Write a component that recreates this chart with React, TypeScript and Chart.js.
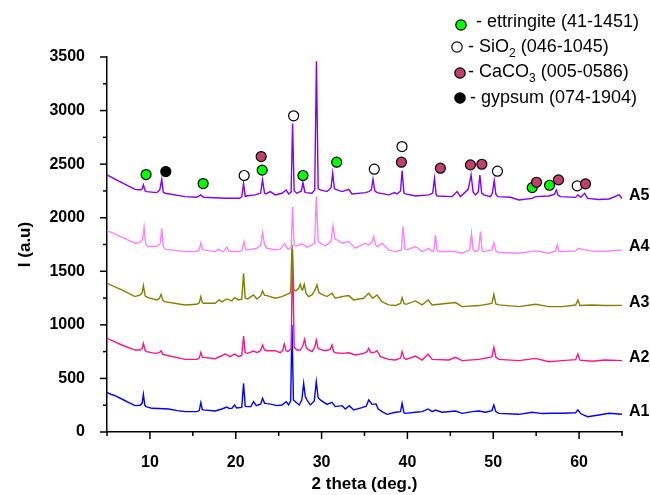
import React, { useEffect, useRef } from 'react';
import { Chart, registerables } from 'chart.js';

Chart.register(...registerables);

// 2 theta (deg.) , intensity (a.u.) for each sample
const A1: [number, number][] = [[5.0,370],[5.5,350],[5.94,339],[6.72,308],[7.49,277],[8.27,246],[8.86,250],[9.1,270],[9.24,352],[9.4,250],[9.56,237],[10.22,221],[11,220],[12.16,215],[13.2,200],[14.1,190],[15.46,190],[15.75,200],[15.93,274],[16.1,210],[16.24,206],[17.6,196],[18.38,215],[18.96,233],[19.2,220],[19.55,221],[19.86,252],[20.1,225],[20.7,230],[20.91,454],[21.1,240],[21.3,237],[21.76,237],[22.07,283],[22.39,246],[22.9,260],[23.12,314],[23.35,270],[23.63,265],[24.21,258],[24.8,246],[25.38,252],[25.88,283],[26.16,252],[26.4,290],[26.55,1000],[26.72,300],[26.94,283],[27.4,252],[27.7,300],[27.91,454],[28.1,330],[28.3,300],[28.68,252],[29.15,290],[29.38,470],[29.6,320],[29.85,300],[30.63,258],[31.21,277],[31.6,237],[32.38,246],[32.77,215],[33.23,246],[33.74,206],[34.71,227],[35.2,240],[35.49,299],[35.88,258],[36.34,262],[36.6,215],[37.04,190],[37.63,165],[38.6,184],[39.2,190],[39.38,268],[39.6,180],[39.77,174],[40.93,184],[41.71,190],[42.41,215],[42.88,190],[43.26,205],[44.04,184],[45.6,196],[46.37,174],[47.54,190],[48.32,196],[49.1,184],[49.85,200],[50.07,252],[50.3,190],[50.65,174],[52.99,165],[54.54,184],[55.71,172],[56.87,175],[58.04,175],[59.6,180],[59.86,206],[60.2,170],[61.0,143],[62.3,159],[63.5,175],[65,165]];

const A2: [number, number][] = [[5,874],[6.72,812],[8.27,765],[8.86,765],[9.1,780],[9.24,827],[9.45,760],[9.63,750],[10.6,734],[11.1,740],[11.3,759],[11.5,725],[11.77,719],[14.1,678],[15.46,678],[15.75,690],[15.93,743],[16.1,700],[16.24,697],[17.6,684],[18.77,728],[19.35,703],[19.86,728],[20.33,703],[20.7,715],[20.91,896],[21.1,740],[21.38,734],[22.07,756],[22.46,740],[22.9,760],[23.12,812],[23.35,765],[23.63,759],[24.6,759],[25.18,740],[25.45,760],[25.65,821],[25.85,760],[26.08,750],[26.45,780],[26.62,1700],[26.8,790],[27.13,765],[27.52,765],[27.8,800],[28.02,865],[28.2,790],[28.41,771],[28.88,750],[29.2,790],[29.38,859],[29.6,780],[29.85,771],[30.43,759],[31.0,770],[31.21,812],[31.4,750],[31.6,740],[32.38,734],[33.16,740],[33.93,719],[34.9,734],[35.3,750],[35.49,781],[35.7,745],[35.88,740],[36.2,745],[36.46,759],[36.85,703],[37.82,678],[38.6,672],[39.2,690],[39.38,750],[39.6,690],[39.84,678],[40.93,709],[41.71,672],[42.41,728],[42.88,678],[44.82,672],[45.6,697],[46.37,666],[48.32,678],[49.85,700],[50.07,790],[50.3,700],[50.65,678],[52.99,666],[54.93,687],[56.48,656],[58.04,666],[59.6,675],[59.86,728],[60.1,670],[61.5,660],[63,672],[65,666]];

const A3: [number, number][] = [[5,1388],[6.72,1326],[8.27,1264],[8.86,1279],[9.1,1300],[9.24,1366],[9.45,1270],[9.75,1254],[10.8,1233],[11.1,1245],[11.3,1285],[11.5,1230],[11.69,1217],[14.1,1186],[15.46,1192],[15.75,1205],[15.93,1264],[16.1,1210],[16.24,1201],[17.6,1201],[18.07,1233],[18.4,1215],[18.96,1242],[19.55,1223],[19.86,1254],[20.33,1233],[20.7,1240],[20.91,1481],[21.1,1250],[21.38,1242],[22.07,1279],[22.46,1242],[22.9,1270],[23.12,1317],[23.35,1275],[23.63,1273],[24.6,1248],[25.38,1264],[25.96,1285],[26.4,1300],[26.55,1750],[26.75,1330],[27.01,1317],[27.32,1341],[27.52,1379],[27.68,1330],[27.79,1326],[27.98,1379],[28.2,1290],[28.49,1264],[28.88,1279],[29.2,1320],[29.46,1373],[29.7,1300],[30.05,1285],[30.63,1264],[31.21,1295],[31.6,1248],[32.38,1264],[33.16,1273],[33.74,1233],[34.9,1248],[35.49,1295],[35.96,1248],[36.46,1279],[37.04,1217],[37.82,1186],[38.6,1180],[39.2,1200],[39.38,1254],[39.6,1200],[39.84,1192],[40.93,1223],[41.71,1186],[42.41,1233],[42.88,1186],[45.6,1208],[46.37,1170],[48.32,1180],[49.85,1200],[50.07,1285],[50.3,1195],[50.65,1186],[52.99,1170],[54.93,1192],[56.48,1170],[58.04,1170],[59.6,1185],[59.86,1233],[60.1,1180],[61.5,1186],[63,1180],[65,1182]];

const A4: [number, number][] = [[5,1880],[6.72,1818],[8.27,1762],[8.86,1768],[9.15,1800],[9.32,1911],[9.5,1760],[9.75,1731],[10.8,1731],[11.2,1760],[11.38,1902],[11.55,1730],[11.77,1706],[14.1,1684],[15.46,1684],[15.75,1700],[15.93,1762],[16.1,1710],[16.24,1700],[17.6,1684],[17.99,1706],[18.3,1690],[18.58,1684],[18.96,1725],[19.2,1690],[19.35,1684],[20.4,1684],[20.75,1700],[20.95,1778],[21.15,1705],[21.38,1700],[22.46,1715],[22.9,1740],[23.12,1862],[23.35,1750],[23.63,1715],[24.6,1700],[25.18,1706],[25.69,1756],[26.08,1706],[26.45,1720],[26.62,2100],[26.8,1740],[27.13,1737],[27.71,1756],[28.3,1725],[28.88,1747],[29.2,1760],[29.38,2200],[29.6,1780],[29.85,1762],[30.43,1737],[31.1,1780],[31.33,1924],[31.55,1800],[31.8,1793],[32.38,1762],[33.16,1778],[33.93,1715],[35.1,1762],[35.49,1747],[35.85,1770],[36.07,1824],[36.3,1745],[36.46,1731],[37.04,1762],[37.82,1700],[38.6,1684],[39.3,1700],[39.49,1918],[39.7,1710],[39.96,1700],[40.93,1731],[41.71,1684],[42.49,1715],[42.88,1684],[43.1,1700],[43.26,1840],[43.45,1700],[43.65,1684],[45.6,1684],[46.37,1669],[47.25,1700],[47.46,1855],[47.65,1700],[47.93,1684],[48.3,1700],[48.51,1871],[48.7,1690],[48.9,1684],[49.85,1700],[50.07,1768],[50.3,1690],[50.65,1675],[52.99,1669],[54.93,1690],[56.48,1669],[57.25,1690],[57.46,1747],[57.65,1684],[58.04,1684],[59.6,1690],[59.86,1715],[60.64,1700],[62,1684],[63.5,1690],[65,1700]];

const A5: [number, number][] = [[5,2399],[6.72,2328],[8.27,2265],[8.86,2259],[9.1,2270],[9.24,2306],[9.45,2250],[9.63,2244],[10.8,2234],[11.15,2260],[11.38,2359],[11.55,2240],[11.77,2228],[14.1,2197],[15.46,2191],[15.93,2213],[16.24,2191],[18.77,2181],[20.4,2181],[20.7,2195],[20.91,2321],[21.1,2200],[21.18,2203],[22.27,2213],[22.9,2230],[23.12,2353],[23.35,2230],[23.51,2222],[24.02,2244],[24.6,2213],[25.38,2228],[25.88,2259],[26.16,2222],[26.45,2240],[26.62,2880],[26.8,2250],[27.13,2228],[27.65,2250],[27.83,2328],[28.05,2240],[28.18,2234],[28.88,2228],[29.2,2260],[29.4,3460],[29.6,2270],[29.85,2259],[30.63,2244],[31.1,2280],[31.29,2415],[31.5,2270],[31.8,2259],[32.38,2244],[33.16,2265],[33.54,2222],[35.1,2234],[35.49,2244],[35.8,2260],[35.99,2359],[36.2,2250],[36.46,2234],[37.82,2213],[38.52,2234],[38.79,2222],[39.2,2250],[39.38,2440],[39.6,2230],[39.77,2222],[40.93,2203],[42.49,2213],[42.95,2230],[43.15,2368],[43.35,2215],[43.46,2203],[45.21,2197],[45.79,2244],[46.18,2197],[47.08,2265],[47.42,2399],[47.65,2240],[47.93,2213],[48.25,2240],[48.44,2399],[48.65,2230],[48.9,2213],[49.68,2197],[49.9,2230],[50.11,2346],[50.3,2220],[50.53,2197],[52.01,2191],[52.99,2166],[54.54,2181],[54.93,2197],[56.48,2203],[57.15,2220],[57.34,2259],[57.55,2210],[57.84,2197],[59.6,2190],[59.86,2213],[60.2,2190],[60.64,2228],[61,2180],[62.3,2170],[63.5,2175],[64.65,2213],[65,2180]];

// phase markers (2 theta, intensity)
const ETTRINGITE: [number, number][] = [[9.55,2403],[16.2,2319],[23.08,2444],[27.83,2394],[31.76,2518],[54.54,2281],[56.56,2303]];
const SIO2: [number, number][] = [[20.98,2394],[26.74,2951],[36.14,2453],[39.37,2664],[50.49,2434],[59.78,2297]];
const CACO3: [number, number][] = [[22.96,2571],[29.34,3620],[39.3,2518],[43.84,2462],[47.34,2493],[48.67,2499],[55.04,2331],[57.6,2353],[60.75,2316]];
const GYPSUM: [number, number][] = [[11.85,2431]];

const SAMPLE_NAMES = ['A1', 'A2', 'A3', 'A4', 'A5'];
const LEGEND_MAIN = ['- ettringite', '- SiO', '- CaCO', '- gypsum'];
const LEGEND_SUB = ['', '2', '3', ''];
const LEGEND_REST = [' (41-1451)', ' (046-1045)', ' (005-0586)', ' (074-1904)'];

const SAMPLE_COLORS = ['#0000FF', '#FF1488', '#808000', '#FF80FF', '#8000FF'];
const PHASE_COLORS = ['#00FF00', '#FFFFFF', '#C0406A', '#000000'];
const FONT = '"Liberation Sans", Arial, sans-serif';

const toXY = (arr: [number, number][]) => arr.map(([x, y]) => ({ x, y }));

export default function App() {
  const ref = useRef<HTMLCanvasElement | null>(null);

  useEffect(() => {
    if (!ref.current) return;
    const samples = [A1, A2, A3, A4, A5];
    const phases = [ETTRINGITE, SIO2, CACO3, GYPSUM];

    const overlay = {
      id: 'overlay',
      afterDraw(chart: any) {
        const { ctx, chartArea, scales } = chart;
        const x = scales.x;
        const y = scales.y;
        ctx.save();
        ctx.strokeStyle = '#000';
        ctx.lineWidth = 1.5;
        for (let v = 0; v <= 3500; v += 250) {
          const py = y.getPixelForValue(v);
          const len = v % 500 === 0 ? 7 : 4;
          ctx.beginPath();
          ctx.moveTo(chartArea.left, py);
          ctx.lineTo(chartArea.left - len, py);
          ctx.stroke();
        }
        for (let v = 5; v <= 65; v += 5) {
          const px = x.getPixelForValue(v);
          const len = v % 10 === 0 ? 7 : 4;
          ctx.beginPath();
          ctx.moveTo(px, chartArea.bottom);
          ctx.lineTo(px, chartArea.bottom + len);
          ctx.stroke();
        }
        // sample names
        ctx.fillStyle = '#000';
        ctx.font = 'bold 16px ' + FONT;
        ctx.textAlign = 'left';
        ctx.textBaseline = 'middle';
        samples.forEach((s, i) => {
          const last = s[s.length - 1][1];
          ctx.fillText(SAMPLE_NAMES[i], chartArea.right + 7, y.getPixelForValue(last + 30));
        });
        // legend
        const rows = [
          { cx: 461, cy: 25, tx: 476, ty: 22 },
          { cx: 457, cy: 47, tx: 468, ty: 47 },
          { cx: 460, cy: 73, tx: 468, ty: 72 },
          { cx: 460, cy: 98, tx: 470, ty: 98 },
        ];
        rows.forEach((r, i) => {
          ctx.beginPath();
          ctx.arc(r.cx, r.cy, 5.2, 0, Math.PI * 2);
          ctx.fillStyle = PHASE_COLORS[i];
          ctx.fill();
          ctx.lineWidth = 1.2;
          ctx.strokeStyle = '#000';
          ctx.stroke();
          ctx.fillStyle = '#000';
          ctx.font = '18px ' + FONT;
          ctx.textBaseline = 'middle';
          let tx = r.tx;
          ctx.fillText(LEGEND_MAIN[i], tx, r.ty);
          tx += ctx.measureText(LEGEND_MAIN[i]).width;
          if (LEGEND_SUB[i]) {
            ctx.font = '12px ' + FONT;
            ctx.fillText(LEGEND_SUB[i], tx, r.ty + 7);
            tx += ctx.measureText(LEGEND_SUB[i]).width;
            ctx.font = '18px ' + FONT;
          }
          ctx.fillText(LEGEND_REST[i], tx, r.ty);
        });
        ctx.restore();
      },
    };

    const datasets: any[] = [];
    samples.forEach((s, i) => {
      datasets.push({
        label: SAMPLE_NAMES[i],
        data: toXY(s),
        borderColor: SAMPLE_COLORS[i],
        borderWidth: 1.4,
        pointRadius: 0,
        tension: 0,
        fill: false,
        order: 9 - i,
      });
    });
    phases.forEach((p, i) => {
      datasets.push({
        label: LEGEND_MAIN[i],
        data: toXY(p),
        showLine: false,
        pointRadius: 5,
        pointBorderWidth: 1.2,
        pointBorderColor: '#000',
        pointBackgroundColor: PHASE_COLORS[i],
        clip: false,
        order: [3, 2, 1, 0][i],
      });
    });

    const chart = new Chart(ref.current, {
      type: 'line',
      data: { datasets },
      plugins: [overlay],
      options: {
        animation: false,
        responsive: false,
        events: [],
        layout: { padding: { left: 0, right: 28, top: 57, bottom: 0 } },
        plugins: { legend: { display: false }, tooltip: { enabled: false } },
        scales: {
          x: {
            type: 'linear',
            min: 5,
            max: 65,
            grid: { display: false },
            border: { display: true, color: '#000', width: 1.5 },
            ticks: {
              stepSize: 5,
              autoSkip: false,
              maxRotation: 0,
              padding: 13,
              color: '#000',
              font: { family: FONT, size: 16, weight: 'bold' },
              callback: (v: any) => (Number(v) % 10 === 0 ? String(v) : ''),
            },
            title: {
              display: true,
              text: '2 theta (deg.)',
              color: '#000',
              padding: { top: 0, bottom: 0 },
              font: { family: FONT, size: 17, weight: 'bold' },
            },
            afterFit: (scale: any) => { scale.height = 63; },
          },
          y: {
            min: 0,
            max: 3500,
            grid: { display: false },
            border: { display: true, color: '#000', width: 1.5 },
            ticks: {
              stepSize: 250,
              autoSkip: false,
              padding: 14,
              color: '#000',
              font: { family: FONT, size: 16, weight: 'bold' },
              callback: (v: any) => (Number(v) % 500 === 0 ? String(v) : ''),
            },
            title: {
              display: true,
              text: 'I (a.u)',
              color: '#000',
              padding: { top: 15, bottom: 0 },
              font: { family: FONT, size: 17, weight: 'bold' },
            },
            afterFit: (scale: any) => { scale.width = 107; },
          },
        },
      },
    } as any);
    return () => chart.destroy();
  }, []);

  return (
    <div style={{ position: 'fixed', left: 0, top: 0, width: 650, height: 495, background: '#fff' }}>
      <canvas ref={ref} width={650} height={495} />
    </div>
  );
}
